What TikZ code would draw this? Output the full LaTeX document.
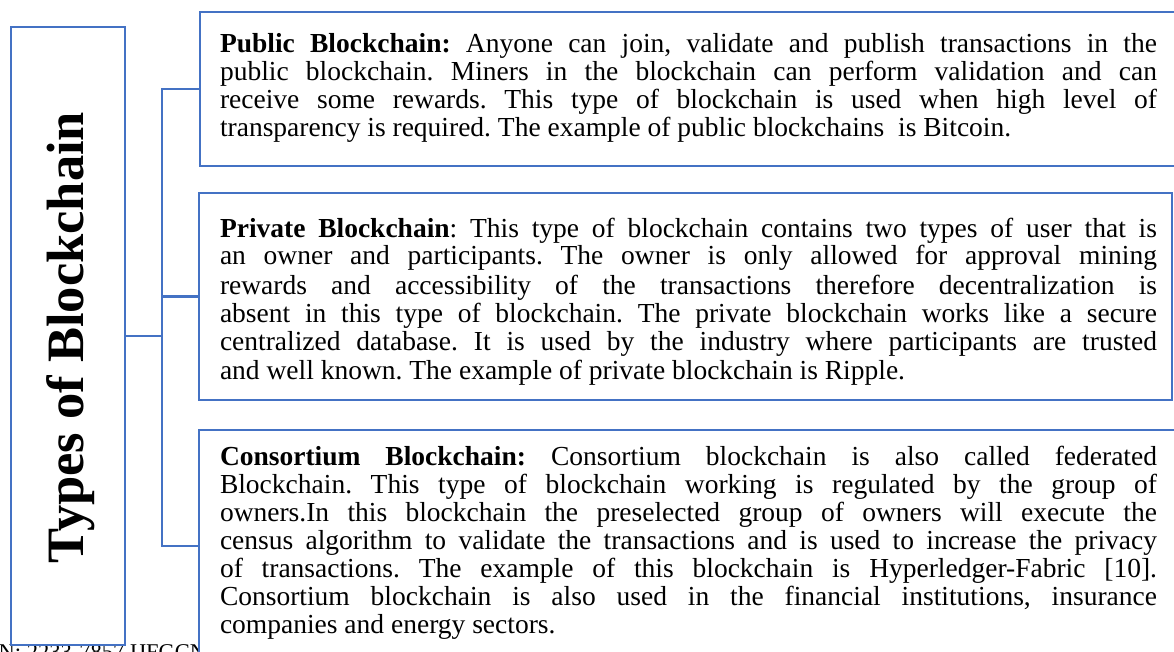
\documentclass[tikz,border=0pt]{standalone}
\usepackage{fontspec}
\setmainfont{Liberation Serif}
\frenchspacing
\definecolor{frame}{RGB}{68,114,196}
\newcommand\bodysize{\fontsize{27.5}{28}\selectfont}
% one justified line of a description, set on its baseline
\newcommand\jline[3]{\node[body] (#1) at #2 {\makebox[937pt][s]{#3}};}
\newcommand\lline[3]{\node[body] (#1) at #2 {#3};}
\tikzset{
  panel/.style={draw=frame, line width=2.5pt, fill=white, rectangle,
    inner sep=0pt, outer sep=0pt, anchor=north west},
  link/.style={draw=frame, line width=2.5pt},
  body/.style={anchor=base west, inner sep=0pt, outer sep=0pt, font=\bodysize},
  heading/.style={rotate=90, inner sep=0pt, font=\fontsize{52.5}{60}\selectfont\bfseries},
  footer/.style={anchor=base west, inner sep=0pt, font=\fontsize{22.5}{27}\selectfont}
}
\begin{document}
\begin{tikzpicture}[x=1pt,y=-1pt]
\useasboundingbox (0,0) rectangle (1174,652);
\clip (0,0) rectangle (1174,652);
\fill[white] (0,0) rectangle (1174,652);

% page footer peeking out at the lower edge
\node[footer] (foot) at (-34,659) {ISSN: 2233-7857 IJFGCN};

% boxes
\node[panel, minimum width=114pt, minimum height=618pt] (types) at (11,27) {};
\node[panel, minimum width=985pt, minimum height=154pt] (pub) at (200,12) {};
\node[panel, minimum width=973pt, minimum height=207pt] (priv) at (199,193) {};
\node[panel, minimum width=985pt, minimum height=232pt] (cons) at (199,430) {};

% tree connectors
\coordinate (spine) at (162,0);
\draw[link] (types.east) -- (types.east -| spine);
\draw[link] (pub.west) -- (pub.west -| spine) -- (cons.west -| spine) -- (cons.west);
\draw[link] (priv.west -| spine) -- (priv.west);

% title
\node[heading] (title) at (70.5,337.5) {Types of Blockchain};

% public blockchain
\jline{pub1}{(220,53)}{\textbf{Public Blockchain:} Anyone can join, validate and publish transactions in the}
\jline{pub2}{(220,81)}{public blockchain. Miners in the blockchain can perform validation and can}
\jline{pub3}{(220,109)}{receive some rewards. This type of blockchain is used when high level of}
\lline{pub4}{(220,137)}{transparency is required. The example of public blockchains \ is Bitcoin.}

% private blockchain
\jline{prv1}{(220,237)}{\textbf{Private Blockchain}: This type of blockchain contains two types of user that is}
\jline{prv2}{(220,265)}{an owner and participants. The owner is only allowed for approval mining}
\jline{prv3}{(220,294)}{rewards and accessibility of the transactions therefore decentralization is}
\jline{prv4}{(220,322)}{absent in this type of blockchain. The private blockchain works like a secure}
\jline{prv5}{(220,350)}{centralized database. It is used by the industry where participants are trusted}
\lline{prv6}{(220,379)}{and well known. The example of private blockchain is Ripple.}

% consortium blockchain
\jline{con1}{(220,465)}{\textbf{Consortium Blockchain:} Consortium blockchain is also called federated}
\jline{con2}{(220,493)}{Blockchain. This type of blockchain working is regulated by the group of}
\jline{con3}{(220,521)}{owners.In this blockchain the preselected group of owners will execute the}
\jline{con4}{(220,549)}{census algorithm to validate the transactions and is used to increase the privacy}
\jline{con5}{(220,577)}{of transactions. The example of this blockchain is Hyperledger-Fabric [10].}
\jline{con6}{(220,605)}{Consortium blockchain is also used in the financial institutions, insurance}
\lline{con7}{(220,633)}{companies and energy sectors.}
\end{tikzpicture}
\end{document}
